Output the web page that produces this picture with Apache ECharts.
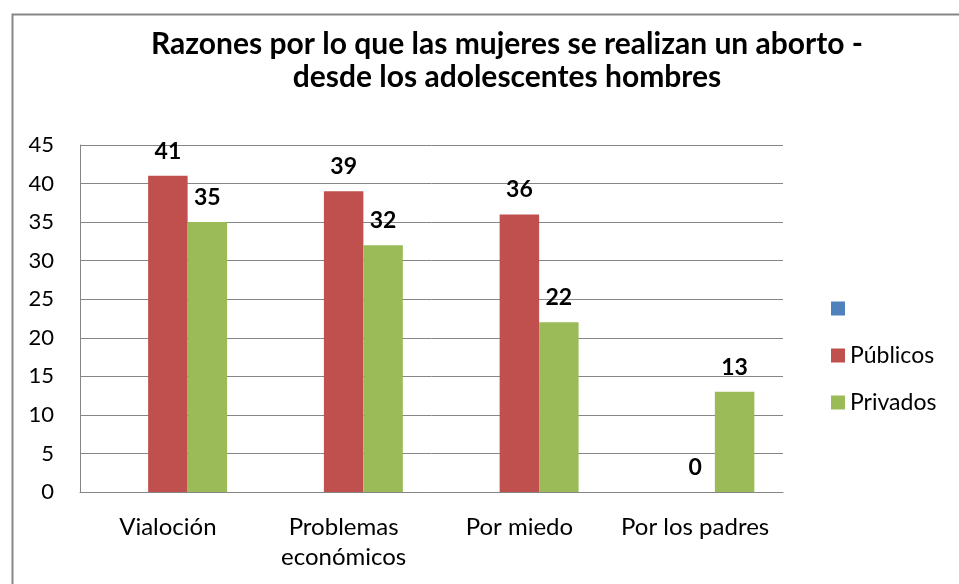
<!DOCTYPE html>
<html>
<head>
<meta charset="utf-8">
<script src="https://cdn.jsdelivr.net/npm/echarts@6/dist/echarts.min.js"></script>
<style>
html,body{margin:0;padding:0;background:#fff;}
#chart{width:959px;height:584px;}
</style>
</head>
<body>
<div id="chart"></div>
<script>
const titleText = 'Razones por lo que las mujeres se realizan un aborto -\ndesde los adolescentes hombres';
const categories = ['Vialoción', 'Problemas\neconómicos', 'Por miedo', 'Por los padres'];
const seriesNames = [' ', 'Públicos', 'Privados'];
const serieBlank = [null, null, null, null];
const publicos = [41, 39, 36, 0];
const privados = [35, 32, 22, 13];
const yTicks = {min: 0, max: 45, interval: 5};

const FONT = 'Lato';
const chart = echarts.init(document.getElementById('chart'));
const labelStyle = {show: true, position: 'top', distance: 13, fontFamily: FONT, fontWeight: 'bold', fontSize: 23, color: '#000'};
chart.setOption({
  animation: false,
  graphic: [{
    type: 'rect', shape: {x: 12.5, y: 14.5, width: 1000, height: 700},
    style: {fill: 'none', stroke: '#868686', lineWidth: 2}, silent: true
  }],
  title: {
    text: titleText, left: 502, top: 23, textAlign: 'center',
    textStyle: {fontFamily: FONT, fontWeight: 'bold', fontSize: 30, lineHeight: 33, color: '#000'}
  },
  legend: {
    orient: 'vertical', left: 826, top: 292, itemWidth: 14, itemHeight: 14, itemGap: 24,
    data: seriesNames, icon: 'rect',
    textStyle: {fontFamily: FONT, fontSize: 23, color: '#000', padding: [0, 0, 0, 0]}
  },
  grid: {left: 80, right: 176, top: 145, bottom: 92, containLabel: false},
  xAxis: {
    type: 'category', data: categories,
    axisLine: {show: true, lineStyle: {color: '#868686', width: 1}},
    axisTick: {show: false},
    axisLabel: {interval: 0, hideOverlap: false, fontFamily: FONT, fontSize: 24, color: '#000', margin: 20, lineHeight: 30}
  },
  yAxis: {
    type: 'value', min: yTicks.min, max: yTicks.max, interval: yTicks.interval,
    axisLine: {show: true, lineStyle: {color: '#868686', width: 1}},
    axisTick: {show: false},
    splitLine: {lineStyle: {color: '#868686', width: 1}},
    axisLabel: {fontFamily: FONT, fontSize: 22, color: '#000', margin: 26}
  },
  series: [
    {name: seriesNames[0], type: 'bar', data: serieBlank, itemStyle: {color: '#4F81BD'}, barGap: '0%', barCategoryGap: '32.6%'},
    {name: seriesNames[1], type: 'bar', data: publicos, itemStyle: {color: '#C0504D'}, barGap: '0%', barCategoryGap: '32.6%', label: labelStyle},
    {name: seriesNames[2], type: 'bar', data: privados, itemStyle: {color: '#9BBB59'}, barGap: '0%', barCategoryGap: '32.6%', label: labelStyle}
  ]
});
</script>
</body>
</html>
